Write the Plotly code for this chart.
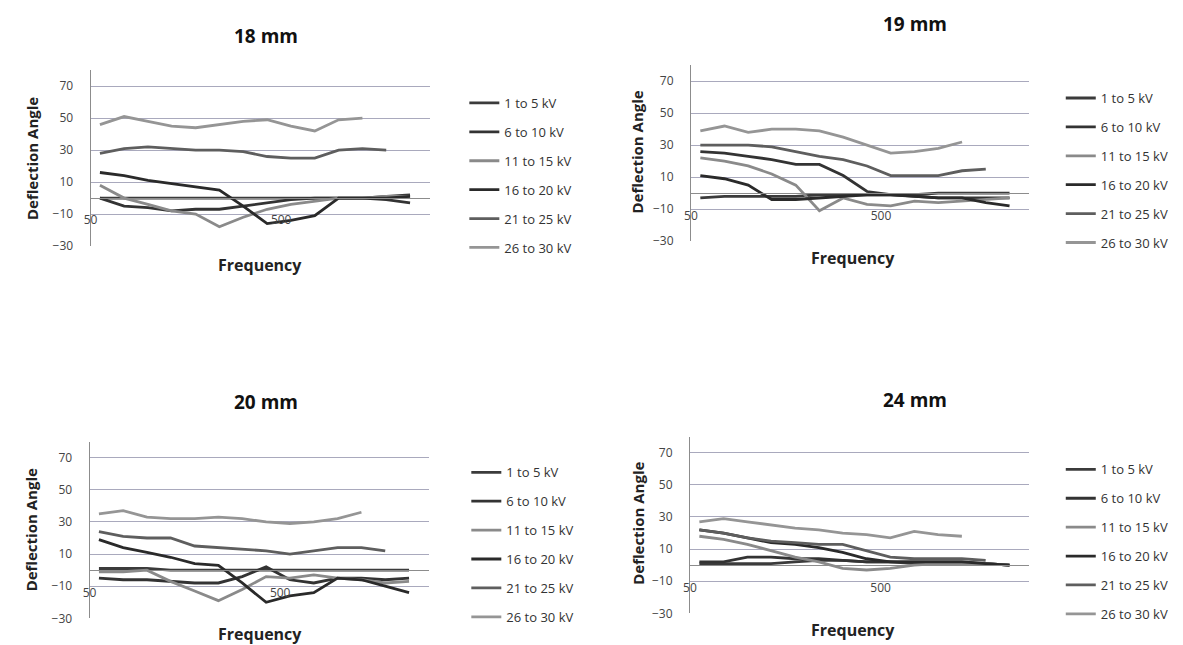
import math
import plotly.graph_objects as go

W, H = 1183, 645

# ---------------- data ----------------
FREQS = [56, 75, 100, 133, 178, 237, 316, 422, 562, 750, 1000, 1334, 1778, 2371]
TICK_FREQS = [50, 500]
TICK_TEXT = ["50", "500"]
Y_TICKS = [-30, -10, 10, 30, 50, 70]
SERIES_NAMES = ["1 to 5 kV", "6 to 10 kV", "11 to 15 kV", "16 to 20 kV", "21 to 25 kV", "26 to 30 kV"]
PANEL_TITLES = ["18 mm", "19 mm", "20 mm", "24 mm"]

# 18 mm
mm18_1to5 = [0, 0, 0, 0, 0, 0, 0, 0, 0, 0, 0, 0, 1, 2]
mm18_6to10 = [0, -5, -6, -8, -7, -7, -5, -3, -1, 0, 0, 0, -1, -3]
mm18_11to15 = [8, 0, -4, -8, -10, -18, -12, -7, -4, -2, 0, 0, 1, 1]
mm18_16to20 = [16, 14, 11, 9, 7, 5, -5, -16, -14, -11, 0, 0, 0, 1]
mm18_21to25 = [28, 31, 32, 31, 30, 30, 29, 26, 25, 25, 30, 31, 30]
mm18_26to30 = [46, 51, 48, 45, 44, 46, 48, 49, 45, 42, 49, 50]

# 19 mm
mm19_1to5 = [-3, -2, -2, -2, -2, -1, -1, -1, -1, -1, 0, 0, 0, 0]
mm19_6to10 = [26, 25, 23, 21, 18, 18, 11, 1, -1, -2, -3, -3, -3, -3]
mm19_11to15 = [22, 20, 17, 12, 5, -11, -3, -7, -8, -5, -6, -5, -4, -3]
mm19_16to20 = [11, 9, 5, -4, -4, -3, -2, -1, -1, -2, -3, -3, -6, -8]
mm19_21to25 = [30, 30, 30, 29, 26, 23, 21, 17, 11, 11, 11, 14, 15]
mm19_26to30 = [39, 42, 38, 40, 40, 39, 35, 30, 25, 26, 28, 32]

# 20 mm
mm20_1to5 = [1, 1, 1, 0, 0, 0, 0, 0, 0, 0, 0, 0, 0, 0]
mm20_6to10 = [-5, -6, -6, -7, -8, -8, -4, 2, -6, -8, -5, -5, -6, -5]
mm20_11to15 = [-1, -1, 0, -7, -13, -19, -12, -4, -5, -3, -5, -6, -8, -7]
mm20_16to20 = [19, 14, 11, 8, 4, 3, -8, -20, -16, -14, -5, -6, -10, -14]
mm20_21to25 = [24, 21, 20, 20, 15, 14, 13, 12, 10, 12, 14, 14, 12]
mm20_26to30 = [35, 37, 33, 32, 32, 33, 32, 30, 29, 30, 32, 36]

# 24 mm
mm24_1to5 = [1, 1, 1, 1, 2, 3, 3, 2, 2, 1, 1, 1, 1, 0]
mm24_6to10 = [2, 2, 5, 5, 4, 4, 3, 2, 2, 2, 2, 2, 1, 0]
mm24_11to15 = [18, 16, 13, 9, 5, 2, -2, -3, -2, 0, 1, 1, 1, 0]
mm24_16to20 = [22, 20, 17, 14, 13, 11, 8, 4, 2, 2, 2, 2, 1, 0]
mm24_21to25 = [22, 20, 17, 15, 14, 13, 13, 9, 5, 4, 4, 4, 3]
mm24_26to30 = [27, 29, 27, 25, 23, 22, 20, 19, 17, 21, 19, 18]

DATA = [
    [mm18_1to5, mm18_6to10, mm18_11to15, mm18_16to20, mm18_21to25, mm18_26to30],
    [mm19_1to5, mm19_6to10, mm19_11to15, mm19_16to20, mm19_21to25, mm19_26to30],
    [mm20_1to5, mm20_6to10, mm20_11to15, mm20_16to20, mm20_21to25, mm20_26to30],
    [mm24_1to5, mm24_6to10, mm24_11to15, mm24_16to20, mm24_21to25, mm24_26to30],
]

# ---------------- styling / layout (pixels) ----------------
COLORS = ["#3b3b3b", "#333333", "#8a8a8a", "#2a2a2a", "#5e5e5e", "#959595"]
FONT = "Open Sans"
TXT = "#333333"
GRID = "#a9a9bd"
AXIS = "#8c8c8c"
Y_RANGE = [-30, 80]
X_RANGE = [math.log10(50), math.log10(3000)]

PANELS = [
    dict(x0=76, x1=417, y0=63, y1=241, title=(252, 28), freq=(246, 260), ylab=(17, 152), leg=(452, 81)),
    dict(x0=680, x1=1020, y0=58, y1=236, title=(905, 16), freq=(843, 253), ylab=(626, 146), leg=(1052, 76)),
    dict(x0=75, x1=416, y0=439, y1=618, title=(252, 399), freq=(246, 634), ylab=(17, 528), leg=(454, 455)),
    dict(x0=679, x1=1020, y0=434, y1=613, title=(905, 397), freq=(843, 630), ylab=(626, 522), leg=(1052, 452)),
]

fig = go.Figure()
layout = dict(
    width=W, height=H, margin=dict(l=0, r=0, t=0, b=0),
    paper_bgcolor="white", plot_bgcolor="white",
    font=dict(family=FONT, color=TXT, size=12),
    annotations=[],
)

for p, pan in enumerate(PANELS):
    sfx = "" if p == 0 else str(p + 1)
    leg_name = "legend" if p == 0 else f"legend{p + 1}"
    for s, name in enumerate(SERIES_NAMES):
        vals = DATA[p][s]
        fig.add_trace(go.Scatter(
            x=FREQS[:len(vals)], y=vals, mode="lines", name=name,
            line=dict(color=COLORS[s], width=2.8),
            xaxis="x" + sfx, yaxis="y" + sfx,
            legend=leg_name, legendgroup=f"g{p}_{s}",
            hoverinfo="x+y+name",
        ))
    ydom = [1 - pan["y1"] / H, 1 - pan["y0"] / H]
    zero_pos = ydom[0] + (0 - Y_RANGE[0]) / (Y_RANGE[1] - Y_RANGE[0]) * (ydom[1] - ydom[0])
    layout["xaxis" + sfx] = dict(
        type="log", domain=[pan["x0"] / W, pan["x1"] / W], range=X_RANGE,
        anchor="free", position=zero_pos,
        showline=True, linecolor=AXIS, linewidth=1,
        showgrid=False, zeroline=False,
        tickmode="array", tickvals=TICK_FREQS, ticktext=TICK_TEXT,
        ticks="", ticklabelstandoff=11,
        tickfont=dict(size=12, color="#444444"),
    )
    layout["yaxis" + sfx] = dict(
        domain=ydom, range=Y_RANGE, anchor="x" + sfx,
        tickmode="array", tickvals=Y_TICKS,
        showgrid=True, gridcolor=GRID, gridwidth=1,
        showline=True, linecolor=AXIS, linewidth=1,
        zeroline=False, ticks="", ticklabelstandoff=14,
        tickfont=dict(size=12, color="#444444"),
    )
    layout[leg_name] = dict(
        x=pan["leg"][0] / W, y=1 - pan["leg"][1] / H,
        xanchor="left", yanchor="top",
        bgcolor="rgba(0,0,0,0)", tracegroupgap=9,
        font=dict(size=13, color=TXT, family=FONT),
        itemwidth=30,
    )
    layout["annotations"] += [
        dict(text=f"<b>{PANEL_TITLES[p]}</b>", x=pan["title"][0] / W, y=1 - pan["title"][1] / H,
             xref="paper", yref="paper", showarrow=False, xanchor="center", yanchor="middle",
             font=dict(size=19, color="#111111", family=FONT)),
        dict(text="<b>Frequency</b>", x=pan["freq"][0] / W, y=1 - pan["freq"][1] / H,
             xref="paper", yref="paper", showarrow=False, xanchor="center", yanchor="middle",
             font=dict(size=16, color="#222222", family=FONT)),
        dict(text="<b>Deflection Angle</b>", x=pan["ylab"][0] / W, y=1 - pan["ylab"][1] / H,
             xref="paper", yref="paper", showarrow=False, xanchor="center", yanchor="middle",
             textangle=-90, font=dict(size=15, color="#222222", family=FONT)),
    ]

fig.update_layout(**layout)
fig.write_html("out.html")
